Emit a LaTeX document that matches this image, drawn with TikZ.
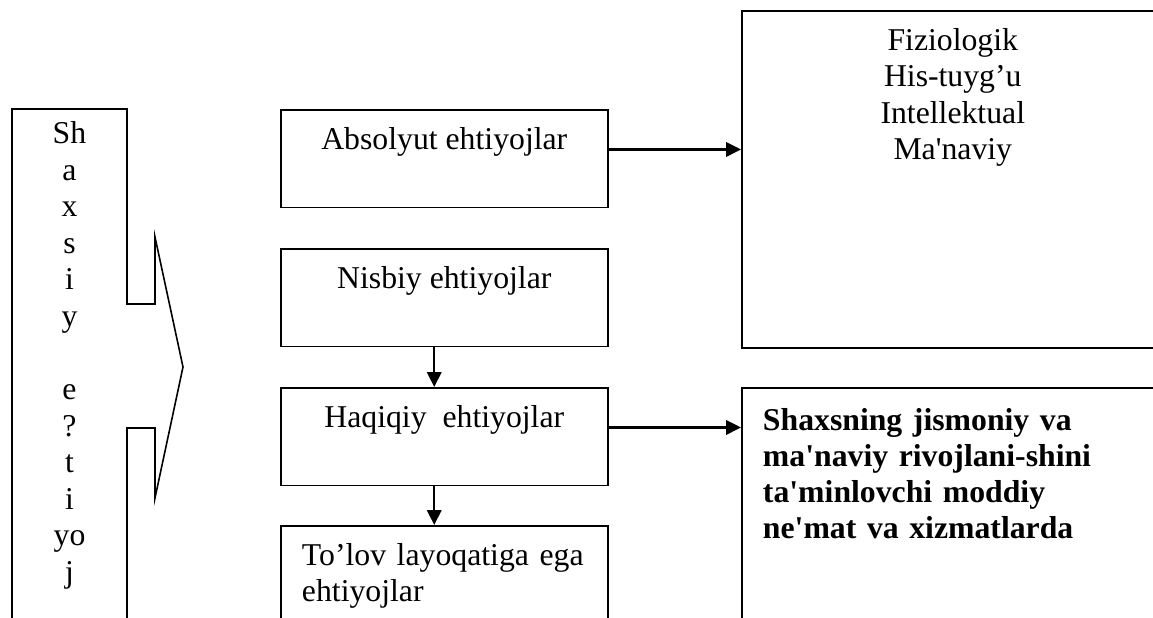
\documentclass[tikz,border=0pt]{standalone}
\usepackage{fontspec}
\setmainfont{Liberation Serif}
\usetikzlibrary{arrows.meta}
\tikzset{
    needbox/.style={draw, line width=0.6pt, anchor=north west, minimum width=123.6pt, inner sep=0pt, text height=15pt, text depth=22pt, align=center, font=\fontsize{12pt}{13.8pt}\selectfont},
    sidebox/.style={draw, line width=0.6pt, anchor=north west, inner ysep=0pt, font=\fontsize{12pt}{13.8pt}\selectfont},
    lettercol/.style={anchor=north, inner sep=0pt, text width=43.5pt, text height=12.85pt, align=center, font=\fontsize{12pt}{13.83pt}\selectfont},
    flowarrow/.style={-{Triangle[length=5.6pt, width=5.4pt]}, line width=0.9pt}
}
\begin{document}
\begin{tikzpicture}[x=0.378pt, y=-0.378pt]
    \useasboundingbox (0,0) rectangle (1153,618);
    \clip (0,0) rectangle (1153,618);
    % left column with its block arrow
    \draw[line width=0.6pt] (12,660) -- (12,109) -- (127,109) -- (127,304) -- (155,304) -- (155,237)
        -- (183,367) -- (155,498) -- (155,428) -- (127,428) -- (127,660);
    \node[lettercol] (shaxsiy) at (69.5,109) {Sh\\a\\x\\s\\i\\y\\~\\e\\?\\t\\i\\yo\\j};
    % middle column
    \node[needbox] (absol) at (280,109) {Absolyut ehtiyojlar};
    \node[needbox] (nisbiy) at (280,248) {Nisbiy ehtiyojlar};
    \node[needbox] (haqiqiy) at (280,387) {Haqiqiy\ \ ehtiyojlar};
    \node[needbox, align=left, text width=107.6pt, inner xsep=8pt, text depth=50pt] (tolov) at (280,525) {To’lov layoqatiga ega\\ehtiyojlar};
    % right column
    \node[sidebox, text width=159.5pt, inner xsep=0pt, text height=15pt, text depth=112.4pt, align=center] (turlari) at (741,10)
        {Fiziologik\\His-tuyg’u\\Intellektual\\Ma\textquotesingle naviy};
    \node[sidebox, text width=150pt, inner xsep=8pt, text height=16pt, text depth=82pt, align=left, font=\fontsize{12pt}{13.6pt}\selectfont\bfseries] (mazmun) at (741,387)
        {Shaxsning jismoniy va\\ma\textquotesingle naviy rivojlani-shini\\ta\textquotesingle minlovchi moddiy\\ne\textquotesingle mat va xizmatlarda};
    % connectors
    \draw[flowarrow] (absol.base -| absol.east) -- (absol.base -| turlari.west);
    \draw[flowarrow] (haqiqiy.base -| haqiqiy.east) -- (haqiqiy.base -| mazmun.west);
    \draw[flowarrow] ([xshift=-3.8pt]nisbiy.south) -- ([xshift=-3.8pt]haqiqiy.north);
    \draw[flowarrow] ([xshift=-3.8pt]haqiqiy.south) -- ([xshift=-3.8pt]tolov.north);
\end{tikzpicture}
\end{document}
